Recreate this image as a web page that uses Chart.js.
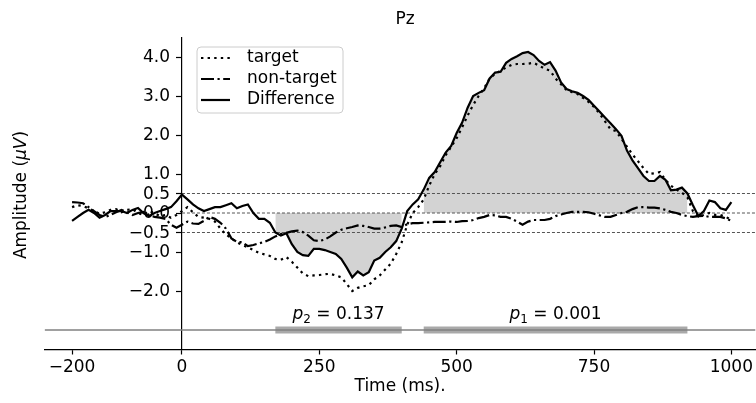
<!DOCTYPE html>
<html>
<head>
<meta charset="utf-8">
<script src="https://cdn.jsdelivr.net/npm/chart.js@4"></script>
<style>
  html, body { margin: 0; padding: 0; background: #fff; }
</style>
</head>
<body>
<canvas id="chart" width="756" height="403"></canvas>
<script>
// time axis (ms)
const times = [
  -200, -190, -180, -170, -160, -150, -140, -130, -120, -110,
  -100, -90, -80, -70, -60, -50, -40, -30, -20, -10,
  0, 10, 20, 30, 40, 50, 60, 70, 80, 90,
  100, 110, 120, 130, 140, 150, 160, 170, 180, 190,
  200, 210, 220, 230, 240, 250, 260, 270, 280, 290,
  300, 310, 320, 330, 340, 350, 360, 370, 380, 390,
  400, 410, 420, 430, 440, 450, 460, 470, 480, 490,
  500, 510, 520, 530, 540, 550, 560, 570, 580, 590,
  600, 610, 620, 630, 640, 650, 660, 670, 680, 690,
  700, 710, 720, 730, 740, 750, 760, 770, 780, 790,
  800, 810, 820, 830, 840, 850, 860, 870, 880, 890,
  900, 910, 920, 930, 940, 950, 960, 970, 980, 990,
  1000
];

const target = [
  0.15, 0.2, 0.18, 0.12, 0.05, -0.02, 0.02, 0.08, 0.1, 0.02,
  0.08, 0.1, 0.0, -0.05, 0.05, 0.0, -0.08, -0.05, -0.12, -0.05,
  0.05, 0.15, 0.02, -0.1, -0.12, -0.15, -0.22, -0.4, -0.55, -0.65,
  -0.75, -0.82, -0.88, -0.95, -1.02, -1.06, -1.1, -1.18, -1.2, -1.13,
  -1.25, -1.4, -1.55, -1.62, -1.6, -1.59, -1.57, -1.56, -1.6, -1.65,
  -1.82, -2.0, -1.92, -1.88, -1.85, -1.7, -1.6, -1.45, -1.3, -1.05,
  -0.75, -0.3, 0.0, 0.15, 0.35, 0.7, 1.0, 1.2, 1.48, 1.7,
  1.92, 2.2, 2.5, 2.77, 3.0, 3.2, 3.45, 3.57, 3.65, 3.73,
  3.8, 3.82, 3.82, 3.83, 3.85, 3.78, 3.7, 3.65, 3.45, 3.3,
  3.15, 3.1, 3.05, 2.95, 2.85, 2.72, 2.55, 2.35, 2.15, 2.1,
  1.9, 1.7, 1.5, 1.33, 1.15, 1.0, 1.02, 1.05, 0.85, 0.7,
  0.6, 0.52, 0.4, 0.05, -0.1, -0.05, 0.0, -0.05, -0.05, -0.1,
  -0.18
];

const nonTarget = [
  0.28, 0.27, 0.25, 0.15, 0.05, -0.05, -0.1, -0.05, 0.02, 0.08,
  0.02, -0.05, 0.0, 0.03, -0.05, -0.1, -0.12, -0.15, -0.3, -0.38,
  -0.3, -0.22, -0.27, -0.28, -0.2, -0.1, -0.15, -0.25, -0.4, -0.65,
  -0.74, -0.75, -0.85, -0.82, -0.78, -0.74, -0.68, -0.6, -0.54, -0.51,
  -0.47, -0.45, -0.49, -0.58, -0.7, -0.72, -0.68, -0.6, -0.5, -0.43,
  -0.39, -0.36, -0.32, -0.33, -0.36, -0.4, -0.4, -0.37, -0.33, -0.32,
  -0.36, -0.29, -0.26, -0.26, -0.25, -0.24, -0.23, -0.23, -0.23, -0.22,
  -0.23, -0.21, -0.2, -0.18, -0.13, -0.1, -0.05, -0.06, -0.1, -0.1,
  -0.15, -0.22, -0.3, -0.22, -0.18, -0.18, -0.18, -0.15, -0.08, -0.04,
  0.0, 0.03, 0.03, 0.03, 0.02, -0.02, -0.06, -0.1, -0.1, -0.05,
  0.0, 0.03, 0.1, 0.15, 0.15, 0.14, 0.14, 0.12, 0.08, 0.03,
  0.0, -0.05, -0.08, -0.1, -0.08, -0.07, -0.1, -0.1, -0.1, -0.14,
  -0.2
];

const difference = [
  -0.2, -0.1, 0.0, 0.08, 0.0, -0.12, -0.05, 0.05, 0.05, 0.05,
  0.0, 0.08, 0.13, 0.0, -0.08, 0.0, 0.05, 0.1, 0.15, 0.3,
  0.47, 0.35, 0.22, 0.12, 0.05, 0.1, 0.15, 0.15, 0.2, 0.25,
  0.12, 0.18, 0.22, 0.0, -0.15, -0.15, -0.25, -0.5, -0.58, -0.52,
  -0.8, -1.0, -1.08, -1.1, -0.92, -0.92, -0.95, -1.0, -1.05, -1.18,
  -1.4, -1.65, -1.5, -1.6, -1.52, -1.22, -1.15, -1.0, -0.88, -0.72,
  -0.4, 0.05, 0.22, 0.35, 0.6, 0.9, 1.05, 1.3, 1.55, 1.72,
  2.05, 2.32, 2.7, 3.0, 3.08, 3.15, 3.45, 3.6, 3.62, 3.85,
  3.95, 4.02, 4.1, 4.13, 4.05, 3.9, 3.8, 3.87, 3.65, 3.35,
  3.18, 3.12, 3.08, 3.0, 2.9, 2.75, 2.6, 2.45, 2.3, 2.15,
  1.98, 1.6, 1.35, 1.15, 0.95, 0.82, 0.82, 0.95, 0.85, 0.58,
  0.6, 0.65, 0.5, 0.2, -0.08, 0.05, 0.32, 0.28, 0.12, 0.08,
  0.28
];

// significant clusters
const clusterStart = [170, 440];
const clusterEnd = [400, 920];
const clusterIndex = ["2", "1"];
const clusterP = ["0.137", "0.001"];

const thresholds = [0.5, 0, -0.5];
const pLineLevel = -3;
const xTicks = [-200, 0, 250, 500, 750, 1000];
const yTicks = [-2, -1, -0.5, 0, 0.5, 1, 2, 3, 4];

const FONT = "DejaVu Sans";
const xMin = -250, xMax = 1044;

const pts = (ys) => times.map((t, i) => ({ x: t, y: ys[i] }));
const minus = (v) => (v < 0 ? "\u2212" : "") + Math.abs(v);
const yFmt = (v) => (v < 0 ? "\u2212" : "") + Math.abs(v).toFixed(1);

const datasets = [];

// curves
datasets.push({ label: "target", data: pts(target), borderColor: "#000", borderWidth: 2.2,
  borderDash: [2.4, 4.2], borderCapStyle: "butt", pointRadius: 0, fill: false, order: 0 });
datasets.push({ label: "non-target", data: pts(nonTarget), borderColor: "#000", borderWidth: 2.2,
  borderDash: [13, 3.5, 2.2, 3.5], borderCapStyle: "butt", pointRadius: 0, fill: false, order: 0 });
datasets.push({ label: "Difference", data: pts(difference), borderColor: "#000", borderWidth: 2.2,
  pointRadius: 0, fill: false, order: 0 });

// threshold dashed lines
thresholds.forEach(v => {
  datasets.push({ data: [{ x: 0, y: v }, { x: xMax, y: v }], borderColor: "#555", borderWidth: 1,
    borderDash: [3, 2], pointRadius: 0, fill: false, order: 2 });
});

// cluster shading
clusterStart.forEach((s, c) => {
  const e = clusterEnd[c];
  datasets.push({ data: pts(difference).filter(p => p.x >= s && p.x <= e), borderWidth: 0,
    borderColor: "rgba(0,0,0,0)", backgroundColor: "#d3d3d3", pointRadius: 0, fill: "origin", order: 3 });
});

// p-value line and bars
datasets.push({ data: [{ x: xMin, y: pLineLevel }, { x: xMax, y: pLineLevel }], borderColor: "#808080",
  borderWidth: 1.6, pointRadius: 0, fill: false, order: 1 });
clusterStart.forEach((s, c) => {
  datasets.push({ data: [{ x: s, y: pLineLevel }, { x: clusterEnd[c], y: pLineLevel }], borderColor: "#a9a9a9",
    borderWidth: 7, borderCapStyle: "butt", pointRadius: 0, fill: false, order: 1 });
});

const extras = {
  id: "extras",
  // y tick labels sit left of the zero spine, under the curves
  beforeDatasetsDraw(chart) {
    const ctx = chart.ctx;
    const xs = chart.scales.x, ys = chart.scales.y;
    const sx = xs.getPixelForValue(0);
    ctx.save();
    ctx.fillStyle = "#000";
    ctx.font = `17px "${FONT}"`;
    ctx.textAlign = "right";
    ctx.textBaseline = "middle";
    yTicks.forEach(v => ctx.fillText(yFmt(v), sx - 12, ys.getPixelForValue(v) + 1));
    ctx.restore();
  },
  afterDraw(chart) {
    const ctx = chart.ctx;
    const xs = chart.scales.x, ys = chart.scales.y;
    ctx.save();
    ctx.fillStyle = "#000";

    // title
    ctx.font = `17px "${FONT}"`;
    ctx.textAlign = "center";
    ctx.textBaseline = "middle";
    ctx.fillText("Pz", 405, 20);

    // y label
    ctx.save();
    ctx.translate(22, 195);
    ctx.rotate(-Math.PI / 2);
    const a = "Amplitude (", m = "\u03bcV", b = ")";
    ctx.font = `17px "${FONT}"`;
    const wa = ctx.measureText(a).width, wb = ctx.measureText(b).width;
    ctx.font = `italic 17px "${FONT}"`;
    const wm = ctx.measureText(m).width;
    let x0 = -(wa + wm + wb) / 2;
    ctx.textAlign = "left";
    ctx.font = `17px "${FONT}"`;
    ctx.fillText(a, x0, 0);
    ctx.font = `italic 17px "${FONT}"`;
    ctx.fillText(m, x0 + wa, 0);
    ctx.font = `17px "${FONT}"`;
    ctx.fillText(b, x0 + wa + wm, 0);
    ctx.restore();

    // p labels
    clusterStart.forEach((s, c) => {
      const cx = xs.getPixelForValue((s + clusterEnd[c]) / 2);
      const by = ys.getPixelForValue(-2.72);
      const rest = " = " + clusterP[c];
      ctx.font = `italic 17px "${FONT}"`;
      const wp = ctx.measureText("p").width;
      ctx.font = `12px "${FONT}"`;
      const ws = ctx.measureText(clusterIndex[c]).width;
      ctx.font = `17px "${FONT}"`;
      const wr = ctx.measureText(rest).width;
      let px = cx - (wp + ws + wr) / 2;
      ctx.textAlign = "left";
      ctx.textBaseline = "alphabetic";
      ctx.font = `italic 17px "${FONT}"`;
      ctx.fillText("p", px, by);
      ctx.font = `12px "${FONT}"`;
      ctx.fillText(clusterIndex[c], px + wp, by + 4);
      ctx.font = `17px "${FONT}"`;
      ctx.fillText(rest, px + wp + ws, by);
    });

    // legend
    const lx = 197, ly = 47, lw = 146, lh = 66, r = 4;
    ctx.beginPath();
    ctx.moveTo(lx + r, ly);
    ctx.arcTo(lx + lw, ly, lx + lw, ly + lh, r);
    ctx.arcTo(lx + lw, ly + lh, lx, ly + lh, r);
    ctx.arcTo(lx, ly + lh, lx, ly, r);
    ctx.arcTo(lx, ly, lx + lw, ly, r);
    ctx.closePath();
    ctx.fillStyle = "rgba(255,255,255,0.8)";
    ctx.fill();
    ctx.strokeStyle = "#cccccc";
    ctx.lineWidth = 1;
    ctx.stroke();

    [0, 1, 2].forEach(i => {
      const ds = chart.data.datasets[i];
      const yy = 58 + i * 21;
      ctx.beginPath();
      ctx.setLineDash(ds.borderDash || []);
      ctx.lineCap = "butt";
      ctx.strokeStyle = "#000";
      ctx.lineWidth = 2.2;
      ctx.moveTo(201, yy);
      ctx.lineTo(230, yy);
      ctx.stroke();
      ctx.setLineDash([]);
      ctx.fillStyle = "#000";
      ctx.font = `17px "${FONT}"`;
      ctx.textAlign = "left";
      ctx.textBaseline = "middle";
      ctx.fillText(ds.label, 247, yy);
    });
    ctx.restore();
  }
};

new Chart(document.getElementById("chart"), {
  type: "line",
  data: { datasets },
  options: {
    responsive: false,
    animation: false,
    layout: { padding: { left: 44.6, top: 37.5, right: 0, bottom: 0 } },
    plugins: { legend: { display: false }, tooltip: { enabled: false } },
    scales: {
      x: {
        type: "linear", min: xMin, max: xMax, position: "bottom",
        afterBuildTicks: s => { s.ticks = xTicks.map(v => ({ value: v })); },
        afterFit: s => { s.height = 53.5; },
        grid: { display: true, drawOnChartArea: false, drawTicks: true, tickLength: 5, tickColor: "#000", tickWidth: 1.2 },
        border: { display: true, color: "#000", width: 1.2 },
        ticks: { color: "#000", font: { family: FONT, size: 17 }, padding: 3, maxRotation: 0, autoSkip: false,
          callback: v => minus(v) },
        title: { display: true, text: "Time (ms).", color: "#000", font: { family: FONT, size: 17 },
          padding: { top: 6, bottom: 6 } }
      },
      y: {
        type: "linear", min: -3.5, max: 4.5, position: { x: 0 },
        afterBuildTicks: s => { s.ticks = yTicks.map(v => ({ value: v })); },
        grid: { display: true, drawOnChartArea: false, drawTicks: true, tickLength: 5, tickColor: "#000", tickWidth: 1.2 },
        border: { display: true, color: "#000", width: 1.2 },
        ticks: { display: false }
      }
    }
  },
  plugins: [extras]
});
</script>
</body>
</html>
